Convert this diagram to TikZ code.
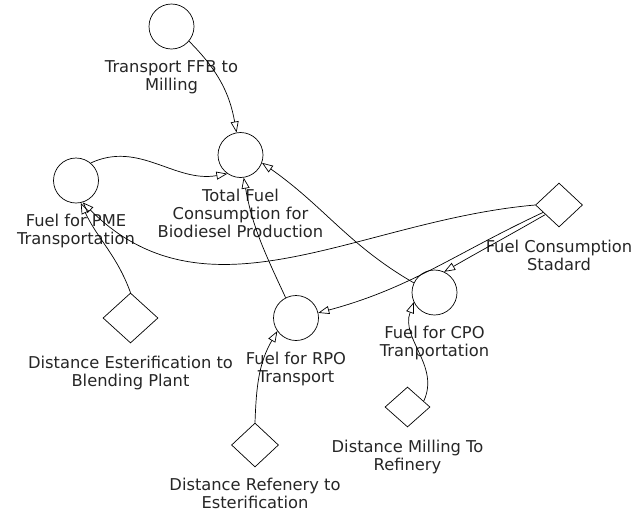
\documentclass[tikz,border=0pt]{standalone}
\usepackage{fontspec}
\newfontfamily\vfont{DejaVu Sans}
\usepackage{tikz}
\usetikzlibrary{shapes.geometric, arrows, arrows.meta, positioning}
\tikzstyle{aux} = [
	circle,
	minimum size=45pt,
	inner sep=0pt,
	draw=black,
	line width=0.7pt
]
\tikzstyle{const} = [
	diamond,
	minimum width=47pt,
	minimum height=44pt,
	inner sep=0pt,
	draw=black,
	line width=0.7pt
]
\tikzstyle{caption} = [
	align=center,
	inner sep=0pt,
	font=\vfont\fontsize{16.3}{18}\selectfont,
	text=black!85
]
\tikzstyle{arrow} = [line width=0.7pt, -{Triangle[open, length=11pt, width=8pt]}]

\begin{document}
\begin{tikzpicture}[x=1pt, y=1pt, node distance=11pt]
	\useasboundingbox (0,0) rectangle (636,-512);
	\node (ffb) [aux] at (171.5,-26.5) {};
	\node (total) [aux] at (240.5,-155) {};
	\node (pme) [aux] at (76,-180.5) {};
	\node (fcs) [const] at (559,-205) {};
	\node (cpo) [aux] at (434.5,-292.5) {};
	\node (rpo) [aux] at (296,-318) {};
	\node (dest) [const, minimum width=55pt, minimum height=50pt] at (130.5,-318) {};
	\node (dref) [const] at (255,-445) {};
	\node (dmil) [const, minimum width=45pt, minimum height=40pt] at (407.5,-407) {};

	\node (ffbtxt) [caption, below=of ffb] {Transport FFB to\\Milling};
	\node (totaltxt) [caption, below=of total] {Total Fuel\\Consumption for\\Biodiesel Production};
	\node (pmetxt) [caption, below=of pme] {Fuel for PME\\Transportation};
	\node (fcstxt) [caption, below=13pt of fcs] {Fuel Consumption\\Stadard};
	\node (cpotxt) [caption, below=of cpo] {Fuel for CPO\\Tranportation};
	\node (rpotxt) [caption, below=of rpo] {Fuel for RPO\\Transport};
	\node (desttxt) [caption, below=13pt of dest] {Distance Esterification to\\Blending Plant};
	\node (dreftxt) [caption, below=of dref] {Distance Refenery to\\Esterification};
	\node (dmiltxt) [caption, below=13pt of dmil] {Distance Milling To\\Refinery};

	\draw [arrow] (ffb.-40) to[out=-45, in=100] (total.100);
	\draw [arrow] (pme.50) to[out=25, in=190] (total.235);
	\draw [arrow] (rpo.117) to[out=115, in=-80] (total.-82);
	\draw [arrow] (cpo.155) to[out=150, in=-35] (total.-20);
	\draw [arrow] (fcs.west) to[out=185, in=-45] (pme.-73);
	\draw [arrow] (dest.north) to[out=110, in=-65] (pme.-78);
	\draw [arrow] (fcs.215) to[out=210, in=30] (cpo.65);
	\draw [arrow] (fcs.205) to[out=205, in=15] (rpo.13);
	\draw [arrow] (dref.north) to[out=88, in=240] (rpo.215);
	\draw [arrow] (dmil.20) to[out=65, in=250] (cpo.205);
\end{tikzpicture}
\end{document}
